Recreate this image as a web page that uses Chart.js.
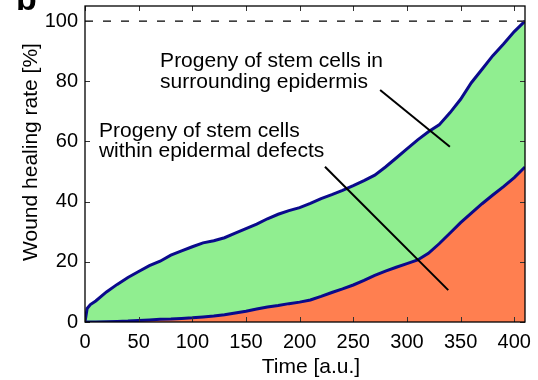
<!DOCTYPE html>
<html>
<head>
<meta charset="utf-8">
<script src="https://cdn.jsdelivr.net/npm/chart.js@4/dist/chart.umd.min.js"></script>
<style>
  html, body { margin: 0; padding: 0; background: #fff; }
  #wrap { width: 538px; height: 380px; }
</style>
</head>
<body>
<div id="wrap"><canvas id="chart" width="538" height="380"></canvas></div>
<script>
// Datos (tiempo en u.a., tasa en %)
const timeX = [0, 2, 5, 10, 20, 30, 40, 50, 60, 70, 80, 90, 100, 110, 120, 130, 140, 150, 160, 170, 180, 190, 200,
  210, 220, 230, 240, 250, 260, 270, 280, 290, 300, 310, 320, 330, 340, 350, 360, 370, 380, 390, 400, 410];
const totalRate = [0, 4.5, 5.8, 7, 10, 12.5, 14.8, 16.8, 18.7, 20.2, 22.2, 23.6, 25, 26.3, 27, 28, 29.5, 31, 32.5, 34.3, 35.8, 37, 38,
  39.4, 41, 42.3, 43.7, 45.3, 47, 48.8, 51.5, 54.5, 57.5, 60.5, 63.2, 65.5, 69.5, 74, 79.5, 84, 88.5, 92.4, 96.5, 100];
const defectRate = [0, 0, 0, 0, 0.1, 0.2, 0.3, 0.5, 0.7, 0.9, 1.0, 1.2, 1.4, 1.7, 2.0, 2.4, 3.0, 3.6, 4.3, 5.0, 5.5, 6.1, 6.6,
  7.3, 8.5, 9.8, 11, 12.3, 13.8, 15.5, 16.9, 18.2, 19.4, 20.6, 22.8, 26, 29.5, 33, 36.2, 39.3, 42.2, 45, 48, 51.5];
const fullRate = [100, 100];
const fullRateX = [0, 410];

const xTickValues = [0, 50, 100, 150, 200, 250, 300, 350, 400];
const yTickValues = [0, 20, 40, 60, 80, 100];

const xTitle = 'Time [a.u.]';
const yTitle = 'Wound healing rate [%]';

// Textos de anotación (posiciones en coordenadas de datos)
const annotationTexts = [
  { x: 70, y: 84.7, text: 'Progeny of stem cells in' },
  { x: 70, y: 77.9, text: 'surrounding epidermis' },
  { x: 13, y: 61.5, text: 'Progeny of stem cells' },
  { x: 13, y: 54.8, text: 'within epidermal defects' }
];
const annotationLines = [
  { x1: 275, y1: 77.1, x2: 340, y2: 58.2 },
  { x1: 223.6, y1: 51.6, x2: 338.5, y2: 10.6 }
];

const FONT = "'Liberation Sans', Arial, Helvetica, sans-serif";
const lineBlue = '#0a0a8c';

const toPoints = (xs, ys) => xs.map((x, i) => ({ x: x, y: ys[i] }));

// Plugin: marco, marcas hacia dentro, títulos de ejes, anotaciones y letra del panel
const framePlugin = {
  id: 'frame',
  afterDatasetsDraw(chart) {
    const ctx = chart.ctx;
    const a = chart.chartArea;
    const xs = chart.scales.x;
    const ys = chart.scales.y;
    ctx.save();

    // anotaciones
    ctx.fillStyle = '#000';
    ctx.font = '21px ' + FONT;
    ctx.textBaseline = 'alphabetic';
    ctx.textAlign = 'left';
    annotationTexts.forEach(t => {
      ctx.fillText(t.text, xs.getPixelForValue(t.x), ys.getPixelForValue(t.y));
    });
    ctx.strokeStyle = '#000';
    ctx.lineWidth = 2;
    annotationLines.forEach(l => {
      ctx.beginPath();
      ctx.moveTo(xs.getPixelForValue(l.x1), ys.getPixelForValue(l.y1));
      ctx.lineTo(xs.getPixelForValue(l.x2), ys.getPixelForValue(l.y2));
      ctx.stroke();
    });

    // marcas
    ctx.strokeStyle = '#333';
    ctx.lineWidth = 1;
    const tl = 5;
    xTickValues.forEach(v => {
      const px = Math.round(xs.getPixelForValue(v)) + 0.5;
      ctx.beginPath();
      ctx.moveTo(px, a.bottom); ctx.lineTo(px, a.bottom - tl);
      ctx.moveTo(px, a.top); ctx.lineTo(px, a.top + tl);
      ctx.stroke();
    });
    yTickValues.forEach(v => {
      const py = Math.round(ys.getPixelForValue(v)) + 0.5;
      ctx.beginPath();
      ctx.moveTo(a.left, py); ctx.lineTo(a.left + tl, py);
      ctx.moveTo(a.right, py); ctx.lineTo(a.right - tl, py);
      ctx.stroke();
    });

    // marco
    ctx.strokeStyle = '#000';
    ctx.lineWidth = 1.3;
    ctx.strokeRect(a.left, a.top, a.right - a.left, a.bottom - a.top);

    // títulos de ejes (algo desplazados respecto al centro, como en la figura)
    ctx.font = '21px ' + FONT;
    ctx.textAlign = 'center';
    ctx.textBaseline = 'alphabetic';
    ctx.fillText(xTitle, (a.left + a.right) / 2 + 6, a.bottom + 51);
    ctx.save();
    ctx.translate(37, (a.top + a.bottom) / 2 - 12);
    ctx.rotate(-Math.PI / 2);
    ctx.fillText(yTitle, 0, 0);
    ctx.restore();

    // letra del panel (recortada arriba)
    ctx.textAlign = 'left';
    ctx.font = 'bold 34px ' + FONT;
    ctx.fillText('b', 16, 10);
    ctx.restore();
  }
};

new Chart(document.getElementById('chart'), {
  type: 'line',
  data: {
    datasets: [
      {
        label: 'Progeny of stem cells within epidermal defects',
        data: toPoints(timeX, defectRate),
        borderColor: lineBlue,
        backgroundColor: '#ff7f50',
        borderWidth: 3,
        pointRadius: 0,
        fill: 'origin',
        tension: 0
      },
      {
        label: 'Progeny of stem cells in surrounding epidermis',
        data: toPoints(timeX, totalRate),
        borderColor: lineBlue,
        backgroundColor: '#90ee90',
        borderWidth: 3,
        pointRadius: 0,
        fill: '-1',
        tension: 0
      },
      {
        label: '100%',
        data: toPoints(fullRateX, fullRate),
        borderColor: '#000',
        borderWidth: 1.2,
        borderDash: [8, 10],
        pointRadius: 0,
        fill: false
      }
    ]
  },
  options: {
    responsive: false,
    animation: false,
    layout: { padding: { top: 6, right: 13, bottom: 0, left: 0 } },
    plugins: {
      legend: { display: false },
      tooltip: { enabled: false }
    },
    scales: {
      x: {
        type: 'linear',
        min: 0,
        max: 410,
        afterBuildTicks: s => { s.ticks = xTickValues.map(v => ({ value: v })); },
        afterFit: s => { s.height = 58; s.paddingLeft = 0; s.paddingRight = 0; },
        grid: { display: false, drawTicks: false },
        border: { display: false },
        ticks: { color: '#000', font: { family: FONT, size: 20 }, padding: 8, maxRotation: 0 },
        title: { display: false }
      },
      y: {
        min: 0,
        max: 105,
        afterBuildTicks: s => { s.ticks = yTickValues.map(v => ({ value: v })); },
        afterFit: s => { s.width = 85; s.paddingTop = 0; s.paddingBottom = 0; },
        grid: { display: false, drawTicks: false },
        border: { display: false },
        ticks: { color: '#000', font: { family: FONT, size: 20 }, padding: 7 },
        title: { display: false }
      }
    }
  },
  plugins: [framePlugin]
});
</script>
</body>
</html>
